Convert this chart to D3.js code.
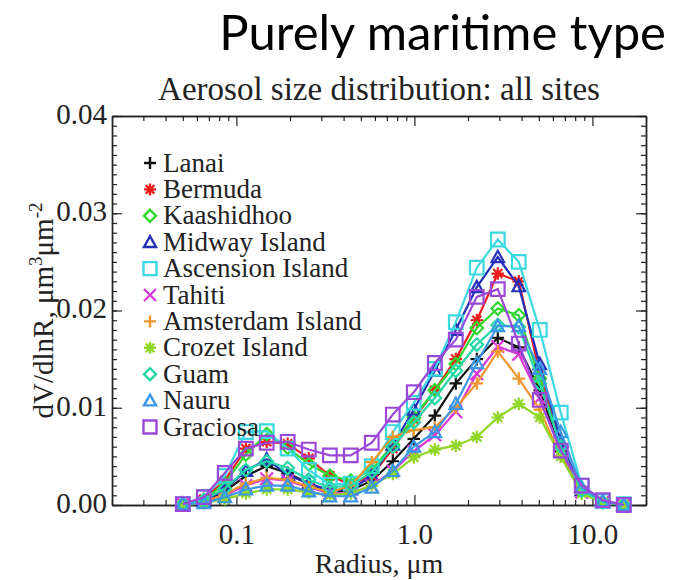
<!DOCTYPE html>
<html>
<head>
<meta charset="utf-8">
<script src="https://cdn.jsdelivr.net/npm/d3@7"></script>
<style>
  body { margin: 0; background: #fff; }
  svg { display: block; }
  .serif { font-family: "Liberation Serif", "DejaVu Serif", serif; fill: #222; }
</style>
</head>
<body>
<svg id="chart"></svg>
<script>
// AERONET size bins (um)
const radius = [0.05, 0.0656, 0.086, 0.113, 0.148, 0.194, 0.255, 0.335, 0.439, 0.576, 0.756,
  0.992, 1.302, 1.708, 2.241, 2.94, 3.857, 5.061, 6.641, 8.713, 11.432, 15.0];

const sites = ["Lanai", "Bermuda", "Kaashidhoo", "Midway Island", "Ascension Island", "Tahiti",
  "Amsterdam Island", "Crozet Island", "Guam", "Nauru", "Graciosa"];
const colors = ["#111111", "#ee1c1c", "#2ed82e", "#2430b8", "#3ad8e0", "#d838d8",
  "#f0962e", "#8fd625", "#24d8a8", "#3a98e6", "#9a48d8"];
const markers = ["plus", "star", "diamond", "triangle", "square", "cross",
  "plus", "star", "diamond", "triangle", "square"];

// dV/dlnR values, um^3/um^2
const lanai = [0.0001, 0.0004, 0.0014, 0.0030, 0.0040, 0.0033, 0.0022, 0.0014, 0.0015, 0.0025, 0.0045,
  0.0068, 0.0092, 0.0125, 0.0150, 0.0172, 0.0162, 0.0118, 0.0055, 0.0015, 0.0003, 0.0000];
const bermuda = [0.0001, 0.0006, 0.0025, 0.0058, 0.0065, 0.0063, 0.0048, 0.0030, 0.0021, 0.0030, 0.0058,
  0.0088, 0.0118, 0.0150, 0.0190, 0.0238, 0.0230, 0.0135, 0.0060, 0.0015, 0.0003, 0.0000];
const kaashidhoo = [0.0001, 0.0005, 0.0022, 0.0052, 0.0073, 0.0059, 0.0042, 0.0030, 0.0025, 0.0036, 0.0062,
  0.0090, 0.0118, 0.0145, 0.0182, 0.0202, 0.0195, 0.0130, 0.0060, 0.0015, 0.0003, 0.0000];
const midway = [0.0001, 0.0004, 0.0016, 0.0035, 0.0047, 0.0031, 0.0022, 0.0015, 0.0016, 0.0030, 0.0062,
  0.0098, 0.0138, 0.0180, 0.0224, 0.0255, 0.0225, 0.0145, 0.0065, 0.0015, 0.0003, 0.0000];
const ascension = [0.0001, 0.0008, 0.0030, 0.0075, 0.0076, 0.0058, 0.0036, 0.0021, 0.0022, 0.0040, 0.0075,
  0.0105, 0.0140, 0.0188, 0.0244, 0.0273, 0.0250, 0.0180, 0.0095, 0.0020, 0.0004, 0.0001];
const tahiti = [0.0001, 0.0003, 0.0010, 0.0020, 0.0027, 0.0025, 0.0018, 0.0012, 0.0012, 0.0020, 0.0035,
  0.0055, 0.0072, 0.0096, 0.0135, 0.0163, 0.0155, 0.0110, 0.0055, 0.0013, 0.0003, 0.0000];
const amsterdam = [0.0001, 0.0003, 0.0011, 0.0022, 0.0028, 0.0026, 0.0019, 0.0013, 0.0020, 0.0044, 0.0070,
  0.0077, 0.0080, 0.0100, 0.0125, 0.0158, 0.0130, 0.0098, 0.0050, 0.0012, 0.0003, 0.0000];
const crozet = [0.0000, 0.0002, 0.0006, 0.0012, 0.0016, 0.0016, 0.0013, 0.0010, 0.0012, 0.0020, 0.0032,
  0.0049, 0.0057, 0.0061, 0.0070, 0.0090, 0.0104, 0.0090, 0.0050, 0.0012, 0.0003, 0.0000];
const guam = [0.0001, 0.0005, 0.0017, 0.0036, 0.0045, 0.0038, 0.0026, 0.0018, 0.0020, 0.0034, 0.0060,
  0.0085, 0.0110, 0.0138, 0.0165, 0.0185, 0.0183, 0.0125, 0.0060, 0.0015, 0.0003, 0.0000];
const nauru = [0.0001, 0.0002, 0.0008, 0.0016, 0.0020, 0.0020, 0.0014, 0.0009, 0.0009, 0.0018, 0.0035,
  0.0060, 0.0075, 0.0104, 0.0146, 0.0184, 0.0184, 0.0140, 0.0075, 0.0018, 0.0004, 0.0000];
const graciosa = [0.0001, 0.0008, 0.0033, 0.0058, 0.0064, 0.0065, 0.0057, 0.0051, 0.0051, 0.0064, 0.0093,
  0.0116, 0.0146, 0.0170, 0.0214, 0.0222, 0.0166, 0.0108, 0.0056, 0.0020, 0.0005, 0.0000];

const series = [lanai, bermuda, kaashidhoo, midway, ascension, tahiti, amsterdam, crozet, guam, nauru, graciosa];

const yTicks = [0, 0.01, 0.02, 0.03, 0.04];
const xTicks = [0.1, 1, 10];
const xTickLabels = ["0.1", "1.0", "10.0"];

const width = 674, height = 580;
const pLeft = 112, pRight = 646, pTop = 116, pBottom = 505;

const svg = d3.select("#chart").attr("width", width).attr("height", height);

const x = d3.scaleLog().domain([0.02, 20]).range([pLeft, pRight]);
const y = d3.scaleLinear().domain([0, 0.04]).range([pBottom, pTop]);

// header
svg.append("text")
  .attr("x", 666).attr("y", 50)
  .attr("text-anchor", "end")
  .style("font-family", "Lato, 'Open Sans', sans-serif")
  .style("font-size", "49px")
  .style("fill", "#000")
  .text("Purely maritime type");

svg.append("text").attr("class", "serif")
  .attr("x", (pLeft + pRight) / 2).attr("y", 100)
  .attr("text-anchor", "middle")
  .style("font-size", "33px")
  .text("Aerosol size distribution: all sites");

// minor tick values
let xMinor = [];
[0.01, 0.1, 1, 10].forEach(d => { for (let k = 1; k <= 9; k++) xMinor.push(d * k); });
xMinor = xMinor.filter(v => v >= 0.02 && v <= 20 && !xTicks.includes(+v.toFixed(4)));
const yMinor = d3.range(0, 41).map(i => i / 1000);

const axisG = svg.append("g").attr("class", "axes");

function axis(gen, tr, vals, size, labels) {
  const g = axisG.append("g").attr("transform", tr)
    .call(gen.tickValues(vals).tickSizeInner(size).tickSizeOuter(0)
      .tickFormat(labels ? labels : ""));
  g.select(".domain").attr("stroke", "#222").attr("stroke-width", 1.4);
  g.selectAll(".tick line").attr("stroke", "#222").attr("stroke-width", 1.2);
  g.selectAll("text").attr("class", "serif").style("font-size", "29px").style("fill", "#222");
  return g;
}

// bottom / top
axis(d3.axisBottom(x), `translate(0,${pBottom})`, xMinor, -5);
const xb = axis(d3.axisBottom(x), `translate(0,${pBottom})`, xTicks, -10, (d, i) => xTickLabels[i]);
xb.selectAll("text").attr("y", 16).attr("dy", "0.8em");
axis(d3.axisTop(x), `translate(0,${pTop})`, xMinor, -5);
axis(d3.axisTop(x), `translate(0,${pTop})`, xTicks, -10);
// left / right
axis(d3.axisLeft(y), `translate(${pLeft},0)`, yMinor, -5);
const yl = axis(d3.axisLeft(y), `translate(${pLeft},0)`, yTicks, -10, d3.format(".2f"));
yl.selectAll("text").attr("x", -5).attr("dy", "0.25em");
axis(d3.axisRight(y), `translate(${pRight},0)`, yMinor, -5);
axis(d3.axisRight(y), `translate(${pRight},0)`, yTicks, -10);

// axis titles
svg.append("text").attr("class", "serif")
  .attr("x", (pLeft + pRight) / 2).attr("y", 573)
  .attr("text-anchor", "middle")
  .style("font-size", "28px")
  .text("Radius, μm");

const yt = svg.append("text").attr("class", "serif")
  .attr("transform", `translate(53,${(pTop + pBottom) / 2}) rotate(-90)`)
  .attr("text-anchor", "middle")
  .style("font-size", "29px");
yt.append("tspan").text("dV/dlnR, μm");
yt.append("tspan").attr("dy", -11).style("font-size", "19px").text("3");
yt.append("tspan").attr("dy", 11).text("μm");
yt.append("tspan").attr("dy", -11).style("font-size", "19px").text("-2");

// markers
function markerPath(type, s) {
  switch (type) {
    case "plus": return `M${-s},0H${s}M0,${-s}V${s}`;
    case "cross": return `M${-s},${-s}L${s},${s}M${-s},${s}L${s},${-s}`;
    case "star": {
      const a = s * 0.72;
      return `M${-s},0H${s}M0,${-s}V${s}M${-a},${-a}L${a},${a}M${-a},${a}L${a},${-a}`;
    }
    case "diamond": return `M0,${-s}L${s},0L0,${s}L${-s},0Z`;
    case "triangle": return `M0,${-s}L${s},${s * 0.8}L${-s},${s * 0.8}Z`;
    case "square": return `M${-s},${-s}H${s}V${s}H${-s}Z`;
  }
}

const line = d3.line().x(d => x(d[0])).y(d => y(d[1]));
const plot = svg.append("g");

series.forEach((vals, i) => {
  const pts = radius.map((r, j) => [r, vals[j]]);
  const g = plot.append("g");
  g.append("path").datum(pts)
    .attr("d", line)
    .attr("fill", "none")
    .attr("stroke", colors[i])
    .attr("stroke-width", 2.2);
  const s = markers[i] === "square" ? 6.8 : 6.3;
  g.selectAll("path.m").data(pts).enter().append("path")
    .attr("class", "m")
    .attr("transform", d => `translate(${x(d[0])},${y(d[1])})`)
    .attr("d", markerPath(markers[i], s))
    .attr("fill", "none")
    .attr("stroke", colors[i])
    .attr("stroke-width", 2.2);
});

// legend
const legend = svg.append("g");
sites.forEach((name, i) => {
  const ly = 163 + i * 26.4;
  legend.append("path")
    .attr("transform", `translate(150,${ly})`)
    .attr("d", markerPath(markers[i], markers[i] === "square" ? 6.5 : 6))
    .attr("fill", "none")
    .attr("stroke", colors[i])
    .attr("stroke-width", 2.4);
  legend.append("text").attr("class", "serif")
    .attr("x", 163).attr("y", ly + 8.5)
    .style("font-size", "27px")
    .text(name);
});
</script>
</body>
</html>
